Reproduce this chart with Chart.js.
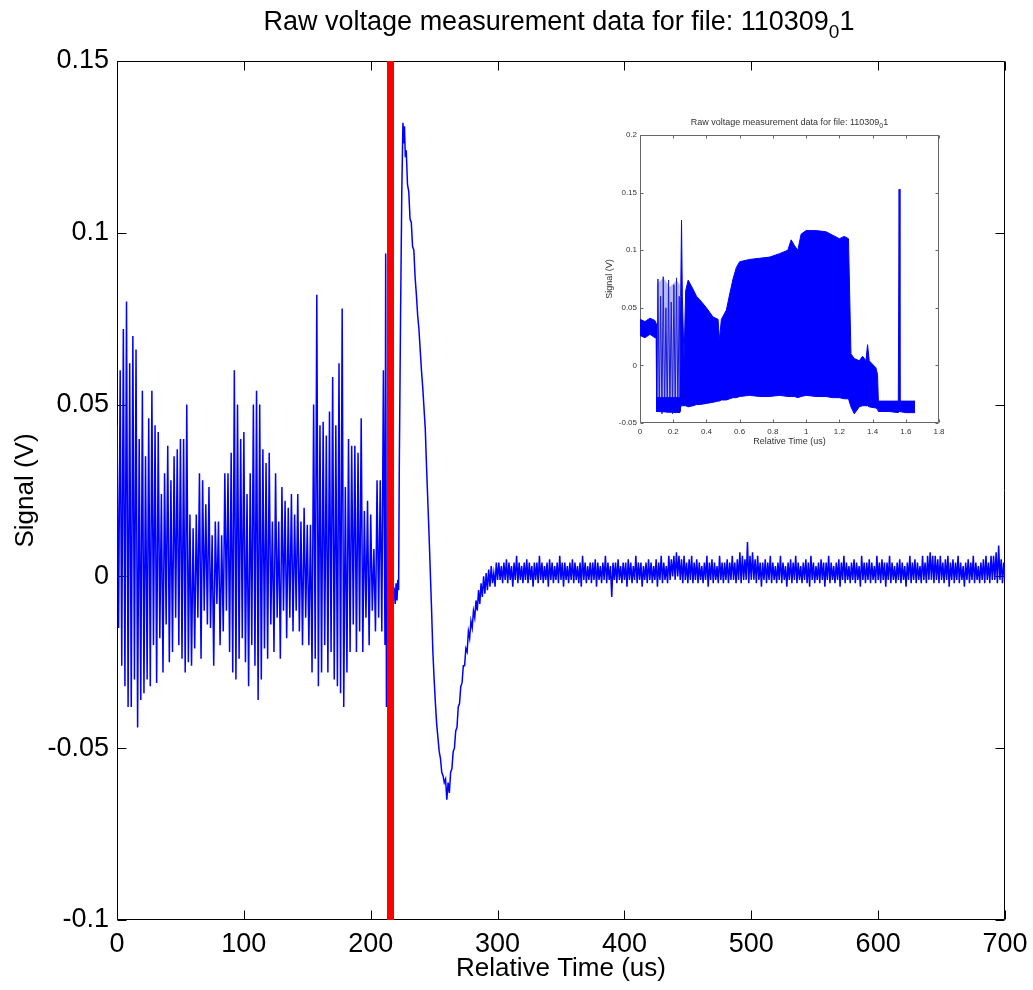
<!DOCTYPE html>
<html><head><meta charset="utf-8">
<script src="https://cdn.jsdelivr.net/npm/chart.js@4.4.1/dist/chart.umd.min.js"></script>
<style>
html,body{margin:0;padding:0;background:#fff;}
#wrap{position:relative;width:1033px;height:990px;overflow:hidden;}
#main{position:absolute;left:0;top:0;}
#inset{position:absolute;left:596px;top:110px;}
</style></head><body>
<div id="wrap"><canvas id="main" width="1033" height="990"></canvas><canvas id="inset" width="360" height="342"></canvas></div>
<script>
// ---------- MAIN CHART DATA (values in mV, time in us) ----------
const titleParts = [["Raw voltage measurement data for file: 110309", false], ["0", true], ["1", false]];
const xLabelText = "Relative Time (us)";
const yLabelText = "Signal (V)";
const xTicks = [0, 100, 200, 300, 400, 500, 600, 700];
const xTickLabels = ["0", "100", "200", "300", "400", "500", "600", "700"];
const yTicks = [-0.1, -0.05, 0, 0.05, 0.1, 0.15];
const yTickLabels = ["-0.1", "-0.05", "0", "0.05", "0.1", "0.15"];
const markerTime = 215.6; // red vertical marker (us)

const oscStep = 1.25; // sample spacing of the early oscillation (us)
const oscMv = [
 44,-15,60,-26,72,-32,80,-38,62,-38,70,-30,66,-44,40,-36,54,-34,35,-30,
 46,-32,54,-20,44,-31,42,-18,24,-28,30,-14,38,-25,28,-22,35,-12,37,-20,
 40,-24,40,-28,50,-25,18,-26,14,-21,18,-12,30,-24,28,-10,21,-14,26,-15,
 12,-26,16,-8,16,-20,12,-16,30,-10,30,-22,36,-28,60,-30,50,-24,40,-18,
 42,-25,24,-32,30,-20,50,-26,54,-36,50,-30,37,-21,33,-24,36,-14,16,-22,
 30,-12,16,-24,26,-10,22,-18,20,-12,24,-16,18,-10,24,-16,16,-20,20,-12,
 15,-20,15,-28,50,-24,82,-32,44,-28,45,-20,41,-28,48,-22,58,-30,44,-32,
 62,-34,78,-38,26,-28,40,-22,38,-14,38,-22,36,-16,46,-22,19,-12,22,-20,
 18,-10,8,-16,28,-12,28,-16,60,-20
];
const pulseT = [211.8,212.4,213.2,218.6,219.3,220,220.7,221.4,222,222.5,223.5,224.5,225.4,226,226.6,227.3,
 228,229,230,231,232,233,234,235,236,237,238,239,240,241,242,243,244,245,246,247,248,249,250,251,252,253,254,255,256,257,258,259,260,
 261,262,263,264,265,266,267,268,269,270,271,272,273,274,275,276,277,278,279,280,281,282,283,284,285,286,287,288,289,290,291,292,293,
 294,295,296,297,298,299,300];
const pulseMv = [94,-38,-10,-4,-8,-2,-7,-1,-4,30,75,112,132,126,131,122,
 124,114,112,104,103,96,95,87,82,76,72,66,60,55,49,43,32,22,12,1,-10,-22,-30,-37,-43,-47,-51,-53,-57,-58,-60,-59,-65,
 -60,-63,-57,-56,-51,-50,-45,-44,-38,-37,-32,-31,-26,-26,-21,-22,-16,-18,-13,-15,-10,-12,-7,-10,-4,-8,-2,-6,0,-5,1,-4,2,
 -3,3,-2,1,-3,4,-1];
const noiseStart = 301; // first sample of the flat tail (us), 1 us spacing
const noiseMv = [
 4,-1,3,-2,4,-1,5,-2,4,-1,3,-3,4,-1,6,-2,4,-1,3,-2,
 4,-1,5,-2,4,-1,3,-3,4,-1,4,-2,6,-1,4,-2,3,-1,4,-3,
 5,-1,4,-2,3,-1,4,-2,6,-1,4,-3,4,-1,3,-2,4,-1,5,-2,
 4,-1,3,-2,4,-3,6,-1,4,-2,3,-1,4,-2,4,-1,5,-3,4,-1,
 3,-2,4,-1,6,-2,4,-1,3,-6,4,-1,4,-2,5,-1,3,-2,4,-1,
 4,-3,5,-1,4,-2,3,-1,6,-2,4,-1,4,-3,3,-1,4,-2,5,-1,
 4,-2,3,-1,5,-3,4,-1,6,-2,4,-1,3,-2,6,-1,5,0,6,-1,
 7,0,6,-1,5,-2,6,-1,4,-2,5,-1,6,-2,4,-1,5,-2,4,-1,
 3,-2,4,-1,6,-3,4,-1,5,-2,4,-1,3,-2,6,-1,4,-2,4,-1,
 5,-2,4,-1,6,-1,4,-2,5,-1,7,-2,6,-1,5,-1,10,-2,6,-1,
 7,-1,5,-2,6,-1,4,-3,4,-1,5,-2,4,-1,6,-2,4,-1,3,-2,
 4,-1,6,-2,4,-1,3,-3,4,-1,5,-2,4,-1,6,-2,4,-1,3,-2,
 4,-1,5,-2,4,-3,6,-1,4,-2,3,-1,4,-2,5,-1,4,-3,4,-1,
 6,-2,4,-1,3,-2,4,-1,5,-3,4,-1,6,-2,4,-1,3,-2,4,-1,
 5,-2,4,-1,3,-3,6,-1,4,-2,4,-1,5,-2,4,-1,3,-2,6,-1,
 4,-2,5,-1,4,-3,4,-1,6,-2,4,-1,3,-2,4,-1,5,-2,4,-1,
 3,-3,4,-1,6,-2,4,-1,5,-2,4,-1,3,-2,6,-1,4,-2,6,-1,
 7,-1,6,-2,6,-1,5,-2,6,-1,4,-2,5,-1,6,-3,4,-1,5,-2,
 4,-1,6,-2,4,-1,3,-3,4,-1,5,-2,4,-1,6,-2,4,-1,3,-2,
 4,-1,5,-2,6,-1,4,-2,6,-1,6,-1,7,-2,9,-1,5,-2,4,-1
];

// ---------- INSET DATA (time in us, signal in V) ----------
const insetTitleParts = [["Raw voltage measurement data for file: 110309", false], ["0", true], ["1", false]];
const insetXTicks = [0, 0.2, 0.4, 0.6, 0.8, 1, 1.2, 1.4, 1.6, 1.8];
const insetXTickLabels = ["0","0.2","0.4","0.6","0.8","1","1.2","1.4","1.6","1.8"];
const insetYTicks = [-0.05, 0, 0.05, 0.1, 0.15, 0.2];
const insetYTickLabels = ["-0.05","0","0.05","0.1","0.15","0.2"];
const insetT = [0,0.03,0.06,0.09,0.098,0.1,0.24,0.245,0.25,0.255,0.265,0.275,0.29,0.32,0.34,0.36,0.40,0.44,0.47,0.478,0.49,0.52,0.54,0.56,0.58,0.60,0.66,0.72,0.78,0.84,0.89,0.91,0.93,0.95,0.97,1.00,1.06,1.12,1.16,1.20,1.23,1.255,1.27,1.29,1.32,1.34,1.36,1.37,1.38,1.42,1.43,1.435,1.50,1.555,1.56,1.565,1.60,1.656];
const insetHi = [0.040,0.038,0.041,0.039,0.036,-0.028,-0.028,0.06,0.126,0.06,0.004,0.065,0.074,0.066,0.060,0.057,0.050,0.042,0.040,0.022,0.040,0.048,0.062,0.075,0.085,0.090,0.092,0.093,0.094,0.097,0.100,0.109,0.104,0.100,0.114,0.117,0.117,0.116,0.113,0.110,0.112,0.110,0.010,0.006,0.004,0.008,0.004,0.018,0.004,-0.002,-0.008,-0.031,-0.031,-0.031,0.153,-0.031,-0.031,-0.031];
const insetLo = [0.026,0.024,0.027,0.024,0.024,-0.040,-0.041,-0.036,-0.035,-0.035,-0.035,-0.035,-0.036,-0.035,-0.034,-0.034,-0.033,-0.032,-0.031,-0.031,-0.030,-0.030,-0.029,-0.028,-0.028,-0.027,-0.026,-0.027,-0.027,-0.026,-0.027,-0.027,-0.027,-0.028,-0.027,-0.026,-0.027,-0.027,-0.028,-0.028,-0.029,-0.029,-0.036,-0.042,-0.036,-0.035,-0.035,-0.035,-0.036,-0.037,-0.038,-0.040,-0.040,-0.041,-0.040,-0.040,-0.041,-0.041];
const lightT = [0.1, 0.14, 0.18, 0.22, 0.24];
const lightHi = [0.070, 0.076, 0.068, 0.074, 0.070];
const lightLo = [-0.040, -0.040, -0.041, -0.040, -0.040];
const zigT = [0.100,0.108,0.116,0.124,0.132,0.140,0.148,0.156,0.164,0.172,0.180,0.188,0.196,0.204,0.212,0.220,0.228,0.236,0.244];
const zigV = [-0.040,0.075,-0.040,0.060,-0.042,0.077,-0.040,0.050,-0.041,0.074,-0.040,0.055,-0.042,0.070,-0.040,0.076,-0.041,0.060,-0.040];

// ---------- build point lists ----------
const mainPts = [];
oscMv.forEach((v, i) => mainPts.push({x: i * oscStep, y: v / 1000}));
pulseT.forEach((t, i) => mainPts.push({x: t, y: pulseMv[i] / 1000}));
noiseMv.forEach((v, i) => mainPts.push({x: noiseStart + i, y: v / 1000}));
const zip = (xs, ys) => xs.map((x, i) => ({x, y: ys[i]}));

const FONT = "'Liberation Sans', Arial, Helvetica, sans-serif";

function drawParts(ctx, parts, cx, cy, size, subSize, subDy, color) {
  ctx.save();
  ctx.fillStyle = color;
  ctx.textBaseline = 'middle';
  ctx.textAlign = 'left';
  let w = 0;
  parts.forEach(([t, sub]) => { ctx.font = (sub ? subSize : size) + 'px ' + FONT; w += ctx.measureText(t).width; });
  let x = cx - w / 2;
  parts.forEach(([t, sub]) => {
    ctx.font = (sub ? subSize : size) + 'px ' + FONT;
    ctx.fillText(t, x, cy + (sub ? subDy : 0));
    x += ctx.measureText(t).width;
  });
  ctx.restore();
}

const framePlugin = {
  id: 'frame',
  beforeDatasetsDraw(chart, args, o) {
    const ctx = chart.ctx, a = chart.chartArea, xs = chart.scales.x, ys = chart.scales.y;
    ctx.save();
    ctx.strokeStyle = o.color; ctx.lineWidth = o.width;
    ctx.beginPath();
    const L = Math.round(a.left) + 0.5, R = Math.round(a.right) - 0.5, T = Math.round(a.top) + 0.5, B = Math.round(a.bottom) - 0.5;
    ctx.rect(L, T, R - L, B - T);
    xs.ticks.forEach(t => { const p = Math.round(xs.getPixelForValue(t.value)) + 0.5;
      ctx.moveTo(p, B); ctx.lineTo(p, B - o.len); ctx.moveTo(p, T); ctx.lineTo(p, T + o.len); });
    ys.ticks.forEach(t => { const p = Math.round(ys.getPixelForValue(t.value)) + 0.5;
      ctx.moveTo(L, p); ctx.lineTo(L + o.len, p); ctx.moveTo(R, p); ctx.lineTo(R - o.len, p); });
    ctx.stroke();
    ctx.restore();
  },
  afterDraw(chart, args, o) {
    const ctx = chart.ctx, a = chart.chartArea;
    const cx = (a.left + a.right) / 2, cy = (a.top + a.bottom) / 2;
    drawParts(ctx, o.title, cx + o.titleDx, o.titleY, o.titleSize, o.subSize, o.subDy, o.textColor);
    ctx.save();
    ctx.fillStyle = o.textColor; ctx.textAlign = 'center'; ctx.textBaseline = 'middle';
    ctx.font = o.labelSize + 'px ' + FONT;
    ctx.fillText(o.xLabel, cx, o.xLabelY);
    ctx.translate(o.yLabelX, cy);
    ctx.rotate(-Math.PI / 2);
    ctx.fillText(o.yLabel, 0, 0);
    ctx.restore();
  }
};

function fixedTicks(values) {
  return function (scale) { scale.ticks = values.map(v => ({value: v})); };
}
function fitX(h) {
  return function (s) { s.height = h; s.paddingLeft = 0; s.paddingRight = 0; };
}
function fitY(w) {
  return function (s) { s.width = w; s.paddingTop = 0; s.paddingBottom = 0; };
}

// ---------- main chart ----------
new Chart(document.getElementById('main'), {
  type: 'line',
  data: {
    datasets: [
      {data: [{x: markerTime, y: -0.1}, {x: markerTime, y: 0.15}], borderColor: '#ff0000', borderWidth: 7, clip: false, pointRadius: 0},
      {data: mainPts, borderColor: '#0000ff', borderWidth: 1.5, pointRadius: 0, tension: 0}
    ]
  },
  options: {
    responsive: false, animation: false, devicePixelRatio: 1,
    layout: {padding: {left: 0, top: 61, right: 28, bottom: 0}},
    plugins: {
      legend: {display: false}, tooltip: {enabled: false},
      frame: {color: '#000', width: 1, len: 9, textColor: '#000', title: titleParts, titleY: 23, titleDx: -2, titleSize: 27, subSize: 19, subDy: 10,
              labelSize: 26, xLabel: xLabelText, xLabelY: 969, yLabel: yLabelText, yLabelX: 26}
    },
    scales: {
      x: {type: 'linear', min: 0, max: 700, grid: {display: false, drawTicks: false}, border: {display: false},
          afterBuildTicks: fixedTicks(xTicks), afterFit: fitX(70),
          ticks: {autoSkip: false, maxRotation: 0, padding: 8, color: '#000', font: {family: FONT, size: 27},
                  callback: (v, i) => xTickLabels[i]}},
      y: {type: 'linear', min: -0.1, max: 0.15, grid: {display: false, drawTicks: false}, border: {display: false},
          afterBuildTicks: fixedTicks(yTicks), afterFit: fitY(117),
          ticks: {autoSkip: false, padding: 8, color: '#000', font: {family: FONT, size: 27},
                  callback: (v, i) => yTickLabels[i]}}
    }
  },
  plugins: [framePlugin]
});

// ---------- inset chart ----------
new Chart(document.getElementById('inset'), {
  type: 'line',
  data: {
    datasets: [
      {data: zip(insetT, insetHi), borderColor: '#0000ff', backgroundColor: '#0000ff', borderWidth: 1, pointRadius: 0, fill: '+1'},
      {data: zip(insetT, insetLo), borderColor: '#0000ff', borderWidth: 1, pointRadius: 0, fill: false},
      {data: zip(zigT, zigV), borderColor: '#1a1ad8', borderWidth: 1, pointRadius: 0, fill: false},
      {data: zip(lightT, lightHi), borderColor: 'rgba(0,0,0,0)', backgroundColor: 'rgba(120,128,225,0.55)', borderWidth: 0, pointRadius: 0, fill: '+1'},
      {data: zip(lightT, lightLo), borderColor: 'rgba(0,0,0,0)', borderWidth: 0, pointRadius: 0, fill: false}
    ]
  },
  options: {
    responsive: false, animation: false, devicePixelRatio: 1,
    layout: {padding: {left: 0, top: 25, right: 17, bottom: 0}},
    plugins: {
      legend: {display: false}, tooltip: {enabled: false},
      frame: {color: '#666', width: 1, len: 3, textColor: '#333', title: insetTitleParts, titleY: 13, titleDx: 0, titleSize: 9, subSize: 7, subDy: 3,
              labelSize: 9, xLabel: xLabelText, xLabelY: 332, yLabel: yLabelText, yLabelX: 14}
    },
    scales: {
      x: {type: 'linear', min: 0, max: 1.8, grid: {display: false, drawTicks: false}, border: {display: false},
          afterBuildTicks: fixedTicks(insetXTicks), afterFit: fitX(29),
          ticks: {autoSkip: false, maxRotation: 0, padding: 4, color: '#333', font: {family: FONT, size: 8},
                  callback: (v, i) => insetXTickLabels[i]}},
      y: {type: 'linear', min: -0.05, max: 0.2, grid: {display: false, drawTicks: false}, border: {display: false},
          afterBuildTicks: fixedTicks(insetYTicks), afterFit: fitY(44),
          ticks: {autoSkip: false, padding: 3, color: '#333', font: {family: FONT, size: 8},
                  callback: (v, i) => insetYTickLabels[i]}}
    }
  },
  plugins: [framePlugin]
});
</script>
</body></html>
